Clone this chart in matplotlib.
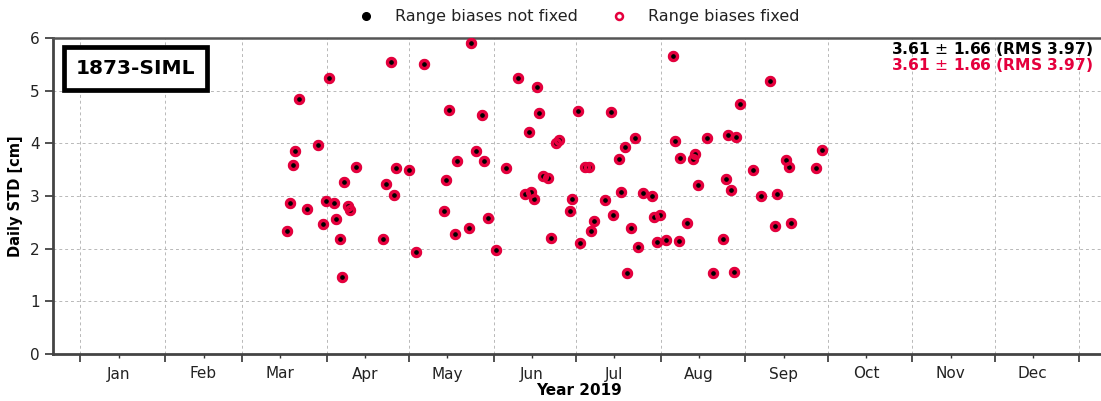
import numpy as np
import pandas as pd
import matplotlib
matplotlib.use("Agg")
import matplotlib.pyplot as plt
import matplotlib.dates as mdates
from matplotlib.lines import Line2D

# Day of year 2019 (0 = Jan 1) and daily STD [cm]
day_of_year = [
    113.5, 90.7, 79.9, 87.0, 78.6, 77.7, 100.7, 115.5, 120.2, 96.5, 111.8, 114.7,
    76.6, 89.8, 92.8, 82.8, 97.7, 98.5, 88.5, 93.5, 75.5, 94.7, 110.7, 95.5,
    142.7, 125.7, 159.8, 167.0, 134.7, 146.9, 167.6, 163.9, 144.7, 137.6, 147.6,
    155.6, 169.1, 133.5, 162.6, 164.8, 165.6, 132.7, 149.0, 141.9, 136.8, 122.8, 151.7,
    216.7, 181.8, 193.8, 202.8, 174.8, 173.8, 217.4, 199.0, 196.7, 219.2, 184.5, 186.0,
    170.9, 197.6, 205.6, 209.0, 179.6, 191.8, 178.8, 194.7, 209.7, 211.9, 187.7, 186.7,
    201.0, 171.8, 182.4, 203.8, 210.7, 214.0, 218.7, 199.7,
    251.8, 240.9, 228.8, 236.6, 239.7, 270.8, 224.7, 223.9, 257.9, 258.8, 268.8, 245.8,
    235.9, 225.8, 237.6, 248.8, 254.7, 221.8, 253.8, 259.7, 234.7, 231.0, 238.8,
]
std_not_fixed = [
    5.55, 5.24, 4.85, 3.97, 3.86, 3.59, 3.56, 3.54, 3.49, 3.27, 3.23, 3.02,
    2.87, 2.90, 2.87, 2.75, 2.81, 2.73, 2.47, 2.56, 2.33, 2.19, 2.18, 1.46,
    5.91, 5.51, 5.25, 5.07, 4.64, 4.53, 4.58, 4.21, 3.86, 3.66, 3.66,
    3.54, 3.38, 3.30, 3.04, 3.07, 2.94, 2.71, 2.58, 2.40, 2.28, 1.94, 1.97,
    5.66, 4.62, 4.60, 4.10, 4.06, 4.01, 4.04, 3.93, 3.71, 3.73, 3.56, 3.56,
    3.34, 3.07, 3.06, 3.00, 2.95, 2.93, 2.71, 2.63, 2.61, 2.63, 2.52, 2.34,
    2.39, 2.21, 2.11, 2.04, 2.13, 2.16, 2.15, 1.54,
    5.18, 4.75, 4.10, 4.16, 4.12, 3.87, 3.80, 3.71, 3.68, 3.55, 3.54, 3.49,
    3.32, 3.21, 3.12, 3.00, 3.04, 2.48, 2.43, 2.48, 2.18, 1.54, 1.56,
]
std_fixed = list(std_not_fixed)

station = "1873-SIML"
stats_not_fixed = "3.61 $\\pm$ 1.66 (RMS 3.97)"
stats_fixed = "3.61 $\\pm$ 1.66 (RMS 3.97)"
label_not_fixed = "Range biases not fixed"
label_fixed = "Range biases fixed"
red = "#e5003d"

dates = pd.Timestamp("2019-01-01") + pd.to_timedelta(day_of_year, unit="D")

W, H = 1101, 401
fig = plt.figure(figsize=(W / 100, H / 100), dpi=100)
ax = fig.add_axes([53 / W, (H - 354) / H, (1104 - 53) / W, (354 - 38) / H])

ax.plot(dates, std_not_fixed, linestyle="none", marker="o", ms=6.5,
        color="black", zorder=3)
ax.plot(dates, std_fixed, linestyle="none", marker="o", ms=5.8, mew=2.4,
        mfc="none", mec=red, zorder=4)

ax.set_xlim(pd.Timestamp("2018-12-22"), pd.Timestamp("2020-01-10"))
ax.set_ylim(0, 6)
ax.set_yticks(range(0, 7))

ax.xaxis.set_major_locator(mdates.MonthLocator())
ax.xaxis.set_major_formatter(matplotlib.ticker.NullFormatter())
ax.xaxis.set_minor_locator(mdates.MonthLocator(bymonthday=15))
ax.xaxis.set_minor_formatter(mdates.DateFormatter("%b"))
ax.tick_params(axis="x", which="major", length=6, width=1.2, color="#333333")
ax.tick_params(axis="x", which="minor", length=3, width=1.0, color="#333333",
               labelsize=11, pad=6, labelcolor="#222222")
ax.tick_params(axis="y", length=6, width=1.2, color="#333333", labelsize=11,
               labelcolor="#222222")

ax.grid(True, which="major", linestyle=(0, (3, 3)), color="#b8b8b8", linewidth=0.7)
for s in ["left", "bottom"]:
    ax.spines[s].set_linewidth(2)
    ax.spines[s].set_color("#444444")
ax.spines["top"].set_linewidth(1.8)
ax.spines["top"].set_color("#555555")
ax.spines["right"].set_visible(False)

ax.set_ylabel("Daily STD [cm]", fontsize=10.5, fontweight="bold", labelpad=5)
ax.set_xlabel("Year 2019", fontsize=11, fontweight="bold", labelpad=1)

ax.text((135.5 - 53) / (1104 - 53), (354 - 68.5) / 316, station,
        transform=ax.transAxes, ha="center", va="center", fontsize=14.5,
        fontweight="bold",
        bbox=dict(boxstyle="square,pad=0.6", fc="white", ec="black", lw=3.4),
        zorder=6)

fig.text(1093 / W, 1 - 49 / H, stats_not_fixed, ha="right", va="center",
         fontsize=11.2, fontweight="bold", color="black")
fig.text(1093 / W, 1 - 65 / H, stats_fixed, ha="right", va="center",
         fontsize=11.2, fontweight="bold", color=red)

handles = [
    Line2D([], [], linestyle="none", marker="o", ms=5.5, color="black"),
    Line2D([], [], linestyle="none", marker="o", ms=5, mew=1.8, mfc="none", mec=red),
]
fig.legend(handles, [label_not_fixed, label_fixed], loc="center",
           bbox_to_anchor=(575 / W, 1 - 17 / H), ncol=2, frameon=False,
           fontsize=11.5, columnspacing=1.6, handletextpad=0.8,
           labelcolor="#222222")

fig.savefig("out.png", dpi=100)
